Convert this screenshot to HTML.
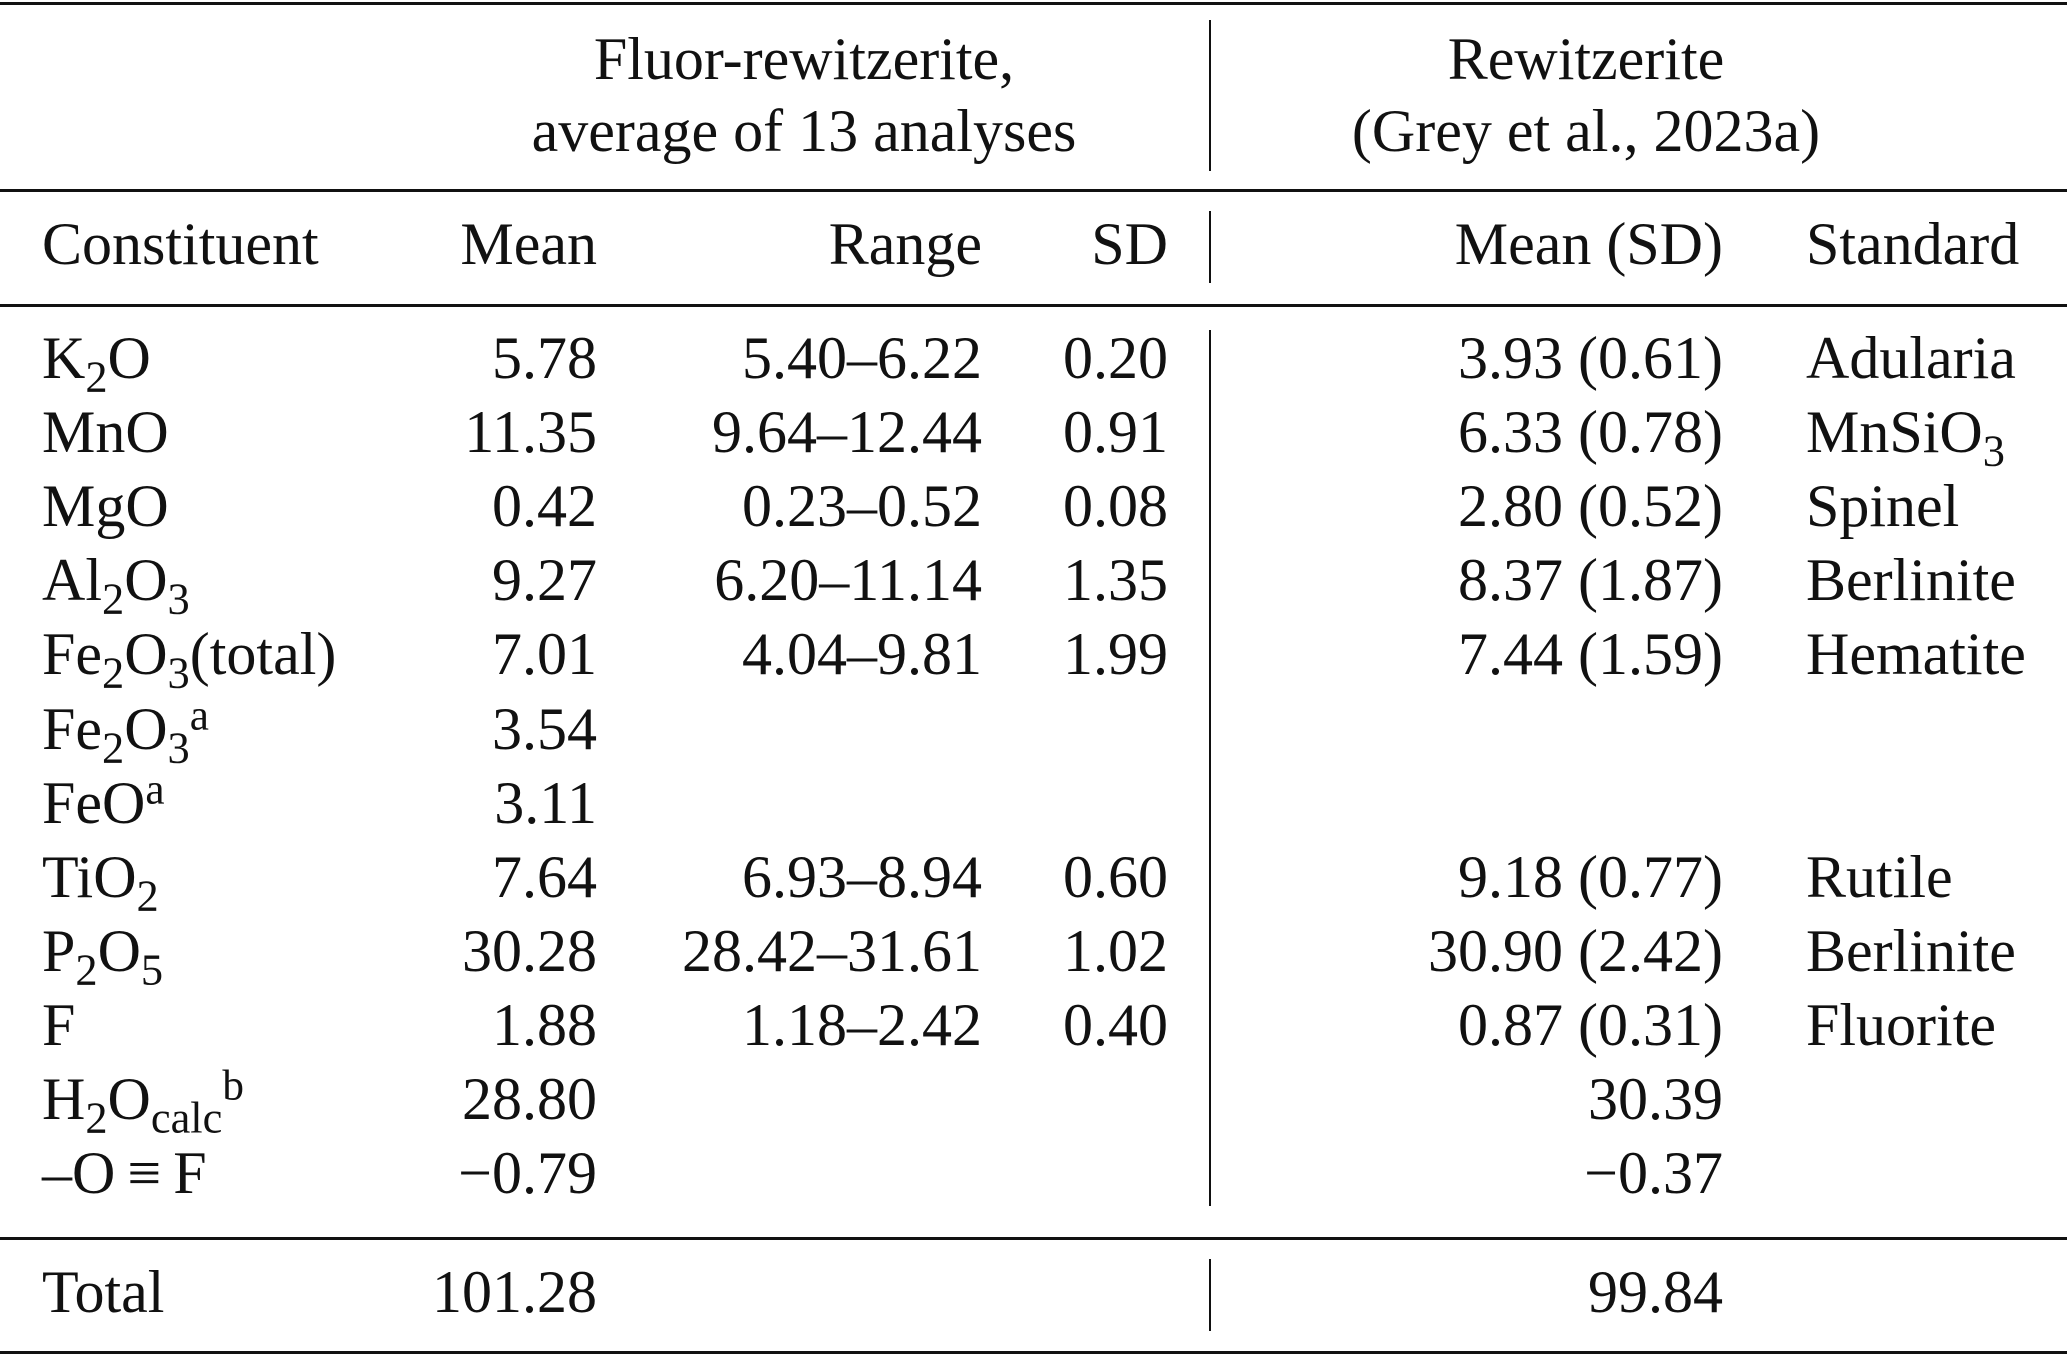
<!DOCTYPE html>
<html><head><meta charset="utf-8"><style>
html,body{margin:0;padding:0;background:#fff;}
body{width:2067px;height:1357px;position:relative;overflow:hidden;font-family:"Liberation Serif",serif;font-size:60px;color:#111;}
.h{position:absolute;left:0;width:2067px;height:3px;background:#111;}
.v{position:absolute;left:1209px;width:2px;background:#111;}
.t{position:absolute;white-space:nowrap;line-height:1;transform:translateY(-50%);}
.r{text-align:right;}
.c{transform:translate(-50%,-50%);}
sub{font-size:0.74em;vertical-align:-0.3em;line-height:0;}
sup{font-size:0.72em;vertical-align:0.45em;line-height:0;}
</style></head><body>
<div class="h" style="top:2px"></div>
<div class="h" style="top:189px"></div>
<div class="h" style="top:304px"></div>
<div class="h" style="top:1237px"></div>
<div class="h" style="top:1351px"></div>
<div class="v" style="top:20px;height:151px"></div>
<div class="v" style="top:211px;height:72px"></div>
<div class="v" style="top:330px;height:876px"></div>
<div class="v" style="top:1259px;height:72px"></div>

<div class="t c" style="left:804px;top:59px">Fluor-rewitzerite,</div>
<div class="t c" style="left:804px;top:131px">average of 13 analyses</div>
<div class="t c" style="left:1586px;top:59px">Rewitzerite</div>
<div class="t c" style="left:1586px;top:131px">(Grey et al., 2023a)</div>

<div id="rows"></div>
<script>
const rows=[
["Constituent","Mean","Range","SD","Mean (SD)","Standard",244],
["K<sub>2</sub>O","5.78","5.40–6.22","0.20","3.93 (0.61)","Adularia"],
["MnO","11.35","9.64–12.44","0.91","6.33 (0.78)","MnSiO<sub>3</sub>"],
["MgO","0.42","0.23–0.52","0.08","2.80 (0.52)","Spinel"],
["Al<sub>2</sub>O<sub>3</sub>","9.27","6.20–11.14","1.35","8.37 (1.87)","Berlinite"],
["Fe<sub>2</sub>O<sub>3</sub>(total)","7.01","4.04–9.81","1.99","7.44 (1.59)","Hematite"],
["Fe<sub>2</sub>O<sub>3</sub><sup>a</sup>","3.54","","","",""],
["FeO<sup>a</sup>","3.11","","","",""],
["TiO<sub>2</sub>","7.64","6.93–8.94","0.60","9.18 (0.77)","Rutile"],
["P<sub>2</sub>O<sub>5</sub>","30.28","28.42–31.61","1.02","30.90 (2.42)","Berlinite"],
["F","1.88","1.18–2.42","0.40","0.87 (0.31)","Fluorite"],
["H<sub>2</sub>O<sub>calc</sub><sup>b</sup>","28.80","","","30.39",""],
["–O&thinsp;≡&thinsp;F","−0.79","","","−0.37",""],
["Total","101.28","","","99.84","",1292]
];
let h="";
rows.forEach((r,i)=>{
 const y=r[6]!==undefined?r[6]:(358+(i-1)*74.1);
 h+=`<div class="t" style="left:42px;top:${y}px">${r[0]}</div>`;
 [[r[1],597],[r[2],982],[r[3],1168],[r[4],1723]].forEach(([s,x])=>{
  if(s)h+=`<div class="t r" style="right:${2067-x}px;top:${y}px">${s}</div>`;});
 if(r[5])h+=`<div class="t" style="left:1806px;top:${y}px">${r[5]}</div>`;
});
document.getElementById("rows").innerHTML=h;
</script>
</body></html>
